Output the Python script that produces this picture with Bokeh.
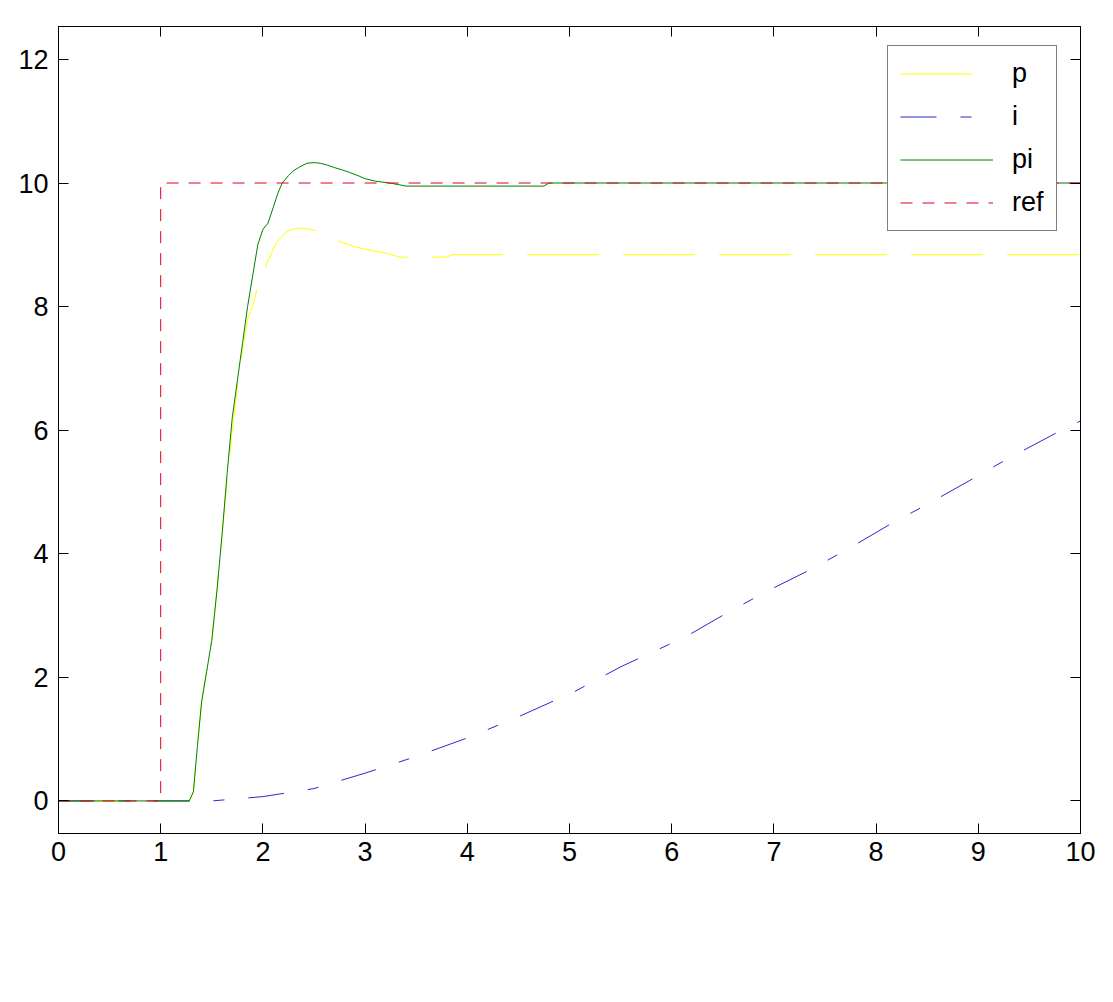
from bokeh.plotting import figure
from bokeh.models import FixedTicker, LinearAxis, Legend, LegendItem, Range1d, CustomJSTickFormatter
from bokeh.embed import file_html
from bokeh.resources import INLINE

# ---- data ----
t_ref = [0, 1, 1, 10]
ref_vals = [0, 0, 10, 10]

t_pi = [0, 1.28, 1.32, 1.36, 1.40, 1.45, 1.50, 1.55, 1.60, 1.65, 1.70, 1.75, 1.80,
        1.85, 1.90, 1.95, 2.00, 2.05, 2.10, 2.15, 2.19, 2.25, 2.30, 2.36, 2.43,
        2.50, 2.56, 2.63, 2.70, 2.78, 2.85, 2.93, 3.00, 3.10, 3.24, 3.34, 3.40,
        4.75, 4.80, 6.0, 8.0, 10.0]
pi_vals = [0, 0, 0.15, 0.9, 1.6, 2.1, 2.6, 3.4, 4.3, 5.3, 6.2, 6.8, 7.4,
           8.0, 8.5, 9.0, 9.25, 9.35, 9.6, 9.85, 10.0, 10.12, 10.2, 10.26, 10.32,
           10.33, 10.32, 10.29, 10.25, 10.21, 10.17, 10.12, 10.07, 10.03, 10.0, 9.97, 9.95,
           9.95, 10.0, 10.0, 10.0, 10.0]

t_p = [0, 1.28, 1.32, 1.36, 1.40, 1.45, 1.50, 1.55, 1.60, 1.65, 1.70, 1.75, 1.80,
       1.85, 1.90, 1.94, 2.03, 2.13, 2.23, 2.31, 2.39, 2.49, 2.60, 2.75, 2.90,
       3.00, 3.12, 3.24, 3.34, 3.80, 3.85, 6.0, 8.0, 10.0]
p_vals = [0, 0, 0.15, 0.9, 1.6, 2.1, 2.6, 3.4, 4.3, 5.2, 6.0, 6.7, 7.3,
          7.8, 8.0, 8.27, 8.67, 9.03, 9.21, 9.26, 9.27, 9.24, 9.17, 9.05, 8.97,
          8.93, 8.89, 8.85, 8.80, 8.80, 8.84, 8.84, 8.84, 8.84]

t_i = [0, 1.5, 2.0, 2.5, 3.0, 3.5, 4.0, 4.47, 5.05, 5.5, 6.14, 6.59, 7.0,
       7.39, 7.8, 8.15, 8.5, 8.91, 9.3, 9.78, 10.0]
i_vals = [0, 0, 0.07, 0.2, 0.45, 0.72, 1.02, 1.34, 1.77, 2.17, 2.66, 3.09, 3.45,
          3.77, 4.15, 4.49, 4.8, 5.18, 5.55, 5.97, 6.15]

x_ticks = [0, 1, 2, 3, 4, 5, 6, 7, 8, 9, 10]
y_ticks = [0, 2, 4, 6, 8, 10, 12]

FONT = "Liberation Sans"
FS = "27px"

p = figure(frame_width=1022, frame_height=807,
           x_range=Range1d(0, 10), y_range=Range1d(-0.527, 12.533),
           output_backend="svg", toolbar_location=None,
           min_border_left=58, min_border_top=26, min_border_right=20,
           min_border_bottom=150, x_axis_location=None, y_axis_location=None)
p.grid.visible = False
p.outline_line_color = "black"
p.outline_line_width = 1
p.background_fill_color = "white"
p.border_fill_color = "white"


def style_axis(ax, ticks, show_labels, standoff):
    ax.ticker = FixedTicker(ticks=ticks)
    ax.major_tick_in = 10
    ax.major_tick_out = 0
    ax.minor_tick_in = 0
    ax.minor_tick_out = 0
    ax.axis_line_color = "black"
    ax.major_tick_line_color = "black"
    ax.major_tick_line_width = 1
    ax.major_label_text_font = FONT
    ax.major_label_standoff = standoff
    ax.major_label_text_font_size = FS
    ax.major_label_text_color = "black"
    if not show_labels:
        # box ticks only (MATLAB style): no labels on top/right
        ax.formatter = CustomJSTickFormatter(code="return '';")
        ax.major_label_standoff = 0


xb = LinearAxis()
style_axis(xb, x_ticks, True, 8)
p.add_layout(xb, "below")
yl = LinearAxis()
style_axis(yl, y_ticks, True, 10)
p.add_layout(yl, "left")
xt = LinearAxis()
style_axis(xt, x_ticks, False, 0)
p.add_layout(xt, "above")
yr = LinearAxis()
style_axis(yr, y_ticks, False, 0)
p.add_layout(yr, "right")

r_p = p.line(t_p, p_vals, line_color="#ffff00", line_width=1, line_dash="72 24")
r_i = p.line(t_i, i_vals, line_color="#2a2ad0", line_width=1, line_dash="36 24 11 24")
r_pi = p.line(t_pi, pi_vals, line_color="#008000", line_width=1)
r_ref = p.line(t_ref, ref_vals, line_color="#e00020", line_width=1, line_dash="12 10")

legend = Legend(items=[LegendItem(label="p", renderers=[r_p]),
                       LegendItem(label="i", renderers=[r_i]),
                       LegendItem(label="pi", renderers=[r_pi]),
                       LegendItem(label="ref", renderers=[r_ref])],
                location=(829, 602.5))
legend.border_line_color = "black"
legend.border_line_width = 1
legend.background_fill_color = "white"
legend.background_fill_alpha = 1
legend.label_text_font = FONT
legend.label_text_font_size = FS
legend.label_text_color = "black"
legend.glyph_width = 93
legend.glyph_height = 31
legend.label_height = 31
legend.spacing = 12
legend.padding = 12
legend.margin = 0
legend.label_standoff = 19
p.add_layout(legend, "center")

open("out.html", "w").write(file_html(p, INLINE))
